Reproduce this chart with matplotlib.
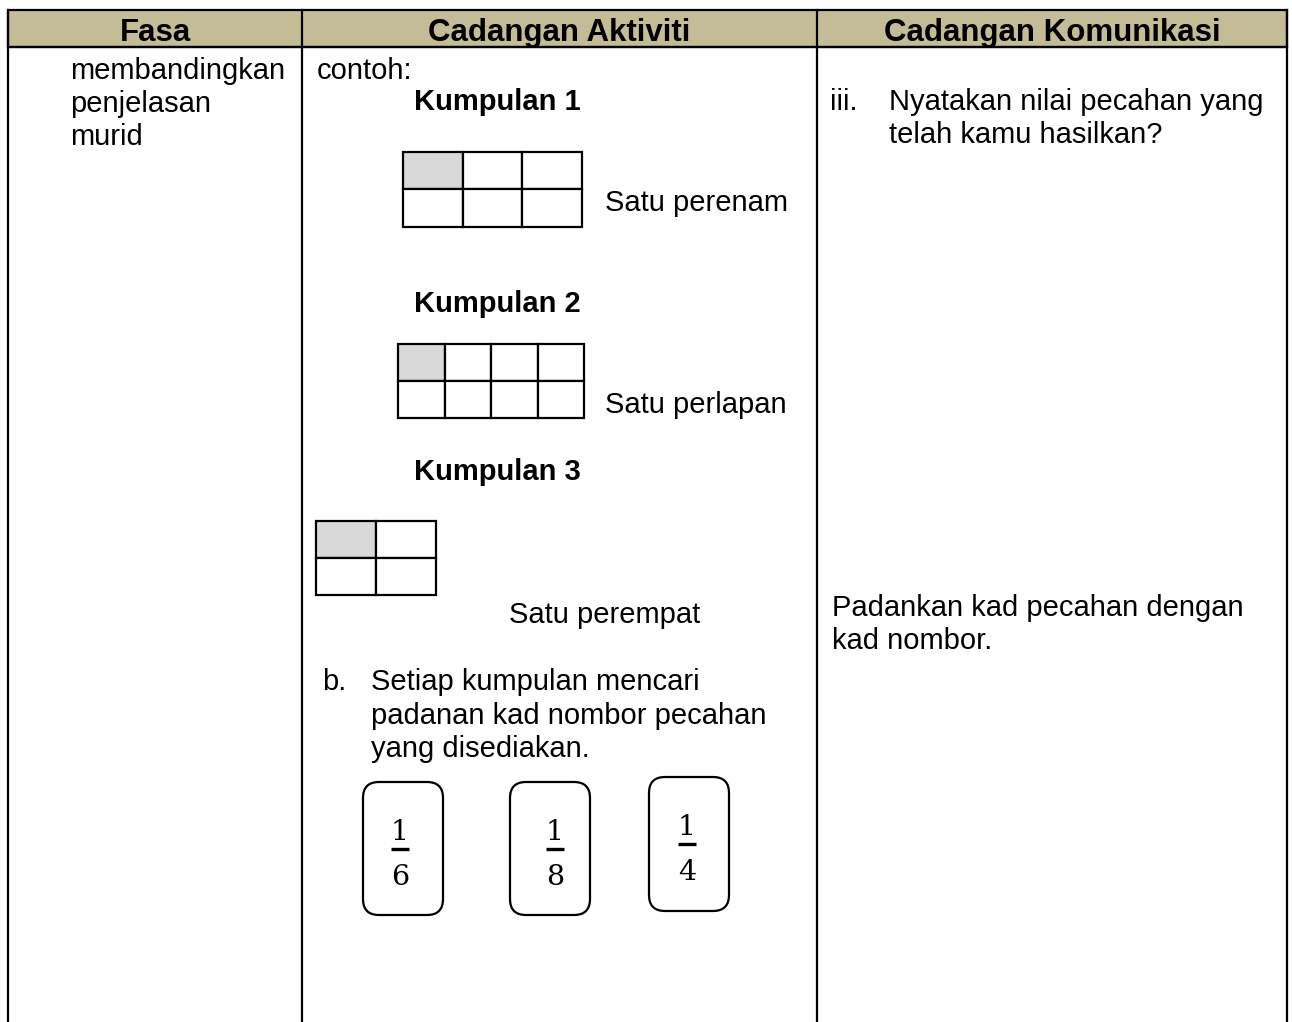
import matplotlib.pyplot as plt
from matplotlib.patches import Rectangle, FancyBboxPatch

# table content
headers = ["Fasa", "Cadangan Aktiviti", "Cadangan Komunikasi"]
fasa_lines = ["membandingkan", "penjelasan", "murid"]
groups = ["Kumpulan 1", "Kumpulan 2", "Kumpulan 3"]
group_labels = ["Satu perenam", "Satu perlapan", "Satu perempat"]
grid_rows = [2, 2, 2]
grid_cols = [3, 4, 2]
b_lines = ["Setiap kumpulan mencari", "padanan kad nombor pecahan", "yang disediakan."]
card_numerators = ["1", "1", "1"]
card_denominators = ["6", "8", "4"]
komunikasi_q = ["Nyatakan nilai pecahan yang", "telah kamu hasilkan?"]
komunikasi_2 = ["Padankan kad pecahan dengan", "kad nombor."]

W, H = 1292, 1022
col_x = [8, 302, 817, 1287]
header_top, header_bot = 10, 47
header_color = "#C4BC96"
shade = "#D9D9D9"
font = "Liberation Sans"
fs = 21
line_h = 33

fig = plt.figure(figsize=(W / 100, H / 100), dpi=100)
ax = fig.add_axes([0, 0, 1, 1])
ax.set_xlim(0, W)
ax.set_ylim(H, 0)
ax.axis("off")

# header band
ax.add_patch(Rectangle((col_x[0], header_top), col_x[-1] - col_x[0],
                       header_bot - header_top, facecolor=header_color,
                       edgecolor="black", lw=1.6))
ax.plot([col_x[0], col_x[-1]], [header_bot, header_bot], color="black", lw=1.6)
for x in col_x:
    ax.plot([x, x], [header_top, H], color="black", lw=1.6)
for i, h in enumerate(headers):
    ax.text((col_x[i] + col_x[i + 1]) / 2, 41, h, ha="center", va="baseline",
            fontsize=22.5, fontweight="bold", family=font)

# column 1
for i, t in enumerate(fasa_lines):
    ax.text(70, 79 + i * line_h, t, fontsize=fs, family=font, va="baseline")

# column 2
ax.text(317, 79, "contoh:", fontsize=fs, family=font, va="baseline")
group_y = [110, 312, 480]
for gy, g in zip(group_y, groups):
    ax.text(414, gy, g, fontsize=fs, family=font, fontweight="bold", va="baseline")

grid_boxes = [(403, 152, 582, 227), (398, 344, 584, 418), (316, 521, 436, 595)]
for (x0, y0, x1, y1), nr, nc in zip(grid_boxes, grid_rows, grid_cols):
    cw = (x1 - x0) / nc
    rh = (y1 - y0) / nr
    for r in range(nr):
        for c in range(nc):
            fc = shade if (r == 0 and c == 0) else "white"
            ax.add_patch(Rectangle((x0 + c * cw, y0 + r * rh), cw, rh,
                                   facecolor=fc, edgecolor="black", lw=1.6))

label_pos = [(605, 211), (605, 413), (509, 623)]
for (lx, ly), t in zip(label_pos, group_labels):
    ax.text(lx, ly, t, fontsize=fs, family=font, va="baseline")

ax.text(322, 690, "b.", fontsize=fs, family=font, va="baseline")
for i, t in enumerate(b_lines):
    ax.text(371, 690 + i * (line_h + 0.5), t, fontsize=fs, family=font, va="baseline")

# fraction cards
cards = [(363, 782, 443, 915), (510, 782, 590, 915), (649, 777, 729, 911)]
frac_x = [400, 555, 687]
for (x0, y0, x1, y1), cx, n, d in zip(cards, frac_x, card_numerators, card_denominators):
    ax.add_patch(FancyBboxPatch((x0, y0), x1 - x0, y1 - y0,
                                boxstyle="round,pad=0,rounding_size=16",
                                facecolor="white", edgecolor="black", lw=1.6))
    bar_y = y0 + 67
    ax.text(cx, bar_y - 9, n, ha="center", va="baseline", fontsize=20.5,
            family="DejaVu Serif")
    ax.plot([cx - 9, cx + 9], [bar_y, bar_y], color="black", lw=2.4,
            solid_capstyle="butt")
    ax.text(cx, bar_y + 36, d, ha="center", va="baseline", fontsize=20.5,
            family="DejaVu Serif")

# column 3
ax.text(830, 110, "iii.", fontsize=fs, family=font, va="baseline")
for i, t in enumerate(komunikasi_q):
    ax.text(889, 110 + i * line_h, t, fontsize=fs, family=font, va="baseline")
for i, t in enumerate(komunikasi_2):
    ax.text(832, 616 + i * line_h, t, fontsize=fs, family=font, va="baseline")

fig.savefig("out.png", dpi=100, facecolor="white")
